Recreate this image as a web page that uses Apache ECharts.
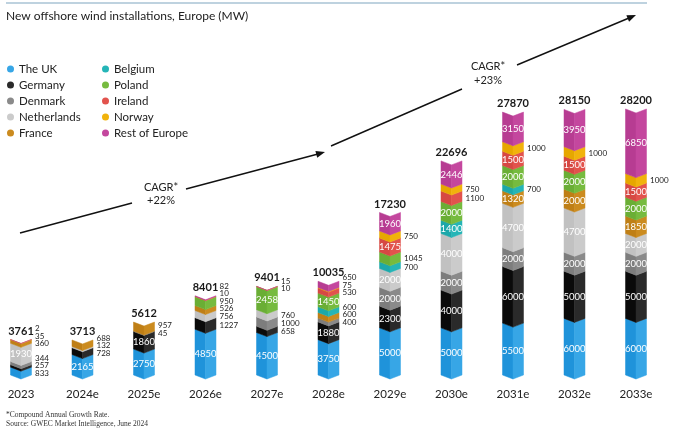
<!DOCTYPE html>
<html>
<head>
<meta charset="utf-8">
<script src="https://cdn.jsdelivr.net/npm/echarts@6.0.0/dist/echarts.min.js"></script>
<style>
  html, body { margin: 0; padding: 0; background: #fff; }
  #chart { width: 680px; height: 435px; }
</style>
</head>
<body>
<div id="chart"></div>
<script>
// values in MW
const years = ['2023', '2024e', '2025e', '2026e', '2027e', '2028e', '2029e', '2030e', '2031e', '2032e', '2033e']
const totals = [3761, 3713, 5612, 8401, 9401, 10035, 17230, 22696, 27870, 28150, 28200]

const uk = [833, 2165, 2750, 4850, 4500, 3750, 5000, 5000, 5500, 6000, 6000]
const germany = [257, 728, 1860, 1227, 658, 1880, 2300, 4000, 6000, 5000, 5000]
const denmark = [344, 0, 45, 0, 1000, 400, 2000, 2000, 2000, 2000, 2000]
const netherlands = [1930, 132, 0, 756, 760, 0, 2000, 4000, 4700, 4700, 2000]
const france = [360, 688, 957, 526, 0, 600, 0, 0, 1320, 2000, 1850]
const belgium = [0, 0, 0, 0, 0, 600, 700, 1400, 700, 0, 0]
const poland = [0, 0, 0, 950, 2458, 1450, 1045, 2000, 2000, 2000, 2000]
const ireland = [0, 0, 0, 0, 0, 530, 1475, 1100, 1500, 1500, 1500]
const norway = [35, 0, 0, 10, 10, 75, 750, 750, 1000, 1000, 1000]
const restOfEurope = [2, 0, 0, 82, 15, 650, 1960, 2446, 3150, 3950, 6850]

const countries = ['The UK', 'Germany', 'Denmark', 'Netherlands', 'France',
                   'Belgium', 'Poland', 'Ireland', 'Norway', 'Rest of Europe']
const stacks = [uk, germany, denmark, netherlands, france, belgium, poland, ireland, norway, restOfEurope]

const colors = ['#37a6e6', '#2a2a2a', '#8a8a8a', '#cbcbcb', '#cb8b1f', '#25b5b7', '#76bb3f', '#e2534d', '#f1b30c', '#c4479e']
const shades = ['#1f93da', '#0a0a0a', '#7d7d7d', '#c1c1c1', '#bf7f16', '#1ca8aa', '#6aae35', '#d64843', '#e6a700', '#b73c92']

const FONT = 'Lato, "DejaVu Sans", sans-serif'
const BAR_W = 21
const CHEV = 4
const INSIDE_MIN = 1300

// running bases of the stack
const bases = []
stacks.forEach((s, k) => {
    bases.push(years.map((y, i) => k === 0 ? 0 : bases[k - 1][i] + stacks[k - 1][i]))
})

function renderSegment(k) {
    return function (params, api) {
        const v = api.value(3)
        if (!v) return null
        const pb = api.coord([api.value(0), api.value(1)])
        const pt = api.coord([api.value(0), api.value(2)])
        const cx = pb[0], h = BAR_W / 2, yb = pb[1], yt = pt[1]
        const children = [
            {
                type: 'polygon',
                shape: { points: [[cx - h, yt], [cx, yt + CHEV], [cx, yb + CHEV], [cx - h, yb]] },
                style: { fill: shades[k], stroke: shades[k], lineWidth: 0.5 }
            },
            {
                type: 'polygon',
                shape: { points: [[cx, yt + CHEV], [cx + h, yt], [cx + h, yb], [cx, yb + CHEV]] },
                style: { fill: colors[k], stroke: colors[k], lineWidth: 0.5 }
            }
        ]
        if (v >= INSIDE_MIN) {
            children.push({
                type: 'text',
                z2: 10,
                style: {
                    text: String(v), x: cx, y: (yt + yb) / 2 + CHEV / 2,
                    align: 'center', verticalAlign: 'middle',
                    fill: '#fff', fontSize: 9.5, fontFamily: FONT
                }
            })
        }
        return { type: 'group', children }
    }
}

function renderLabels(params, api) {
    const i = api.value(0)
    const children = []
    let prev = Infinity
    let base = 0
    stacks.forEach(s => {
        const v = s[i]
        if (v <= 0) return
        if (v < INSIDE_MIN) {
            const pb = api.coord([i, base])
            const pt = api.coord([i, base + v])
            const y = Math.min((pb[1] + pt[1]) / 2 + CHEV / 2, prev - 7.5)
            prev = y
            children.push({
                type: 'text',
                style: {
                    text: String(v), x: pb[0] + 14, y,
                    align: 'left', verticalAlign: 'middle',
                    fill: '#222', fontSize: 8, fontFamily: FONT
                }
            })
        }
        base += v
    })
    const top = api.coord([i, base])
    children.push({
        type: 'text',
        style: {
            text: String(api.value(1)), x: top[0], y: top[1] - 3,
            align: 'center', verticalAlign: 'bottom',
            fill: '#1a1a1a', fontSize: 11, fontWeight: 'bold', fontFamily: FONT
        }
    })
    return { type: 'group', children }
}

function arrowHead(x1, y1, x2, y2) {
    const len = Math.hypot(x2 - x1, y2 - y1)
    const ux = (x2 - x1) / len, uy = (y2 - y1) / len
    const bx = x2 - ux * 9, by = y2 - uy * 9
    return {
        type: 'polygon',
        shape: { points: [[x2, y2], [bx - uy * 3.5, by + ux * 3.5], [bx + uy * 3.5, by - ux * 3.5]] },
        style: { fill: '#111' }
    }
}

function seg(x1, y1, x2, y2) {
    return { type: 'line', shape: { x1, y1, x2, y2 }, style: { stroke: '#111', lineWidth: 1.4 } }
}

function note(text, x, y, size, family) {
    return {
        type: 'text', x, y,
        style: { text, fill: '#222', fontSize: size, fontFamily: family || FONT, align: 'center', verticalAlign: 'middle' }
    }
}

const series = countries.map((name, k) => ({
    type: 'custom',
    name,
    itemStyle: { color: colors[k] },
    renderItem: renderSegment(k),
    encode: { x: 0, y: [1, 2] },
    data: years.map((y, i) => [i, bases[k][i], bases[k][i] + stacks[k][i], stacks[k][i]]),
    z: 2
}))

series.push({
    type: 'custom',
    name: 'labels',
    silent: true,
    renderItem: renderLabels,
    encode: { x: 0, y: 1 },
    data: years.map((y, i) => [i, totals[i]]),
    z: 5
})

const legendBase = {
    orient: 'vertical', top: 61, padding: 0, icon: 'circle',
    itemWidth: 7, itemHeight: 7, itemGap: 0, selectedMode: false,
    textStyle: { fontSize: 11.5, lineHeight: 16, color: '#222', fontFamily: FONT }
}

const myChart = echarts.init(document.getElementById('chart'))
myChart.setOption({
    animation: false,
    title: {
        text: 'New offshore wind installations, Europe (MW)',
        left: 6, top: 10, padding: 0,
        textStyle: { fontSize: 12, fontWeight: 'normal', color: '#222', fontFamily: FONT }
    },
    legend: [
        Object.assign({}, legendBase, { left: 7, data: countries.slice(0, 5) }),
        Object.assign({}, legendBase, { left: 102, data: countries.slice(5) })
    ],
    grid: { left: 21, right: 44, top: 92, bottom: 60 },
    xAxis: {
        type: 'category',
        data: years,
        boundaryGap: false,
        axisLine: { show: false },
        axisTick: { show: false },
        axisLabel: { color: '#222', fontSize: 11.5, fontFamily: FONT, margin: 13 }
    },
    yAxis: { type: 'value', min: 0, max: 30000, show: false },
    graphic: [
        { type: 'line', shape: { x1: 6, y1: 3, x2: 647, y2: 3 }, style: { stroke: '#a9c3d5', lineWidth: 1.5 } },
        seg(20, 233, 132, 203),
        seg(186, 189, 318, 154),
        arrowHead(186, 189, 325, 152),
        note('CAGR*', 161, 187, 11),
        note('+22%', 161, 200, 11),
        seg(331, 146, 462, 89),
        seg(517, 65, 629, 18),
        arrowHead(517, 65, 636, 15),
        note('CAGR*', 488, 66, 11),
        note('+23%', 488, 80, 11),
        {
            type: 'text', left: 6, top: 411,
            style: { text: '*Compound Annual Growth Rate.', fill: '#333', fontSize: 7.5, fontFamily: '"Liberation Serif", serif' }
        },
        {
            type: 'text', left: 6, top: 420,
            style: { text: 'Source: GWEC Market Intelligence, June 2024', fill: '#333', fontSize: 7.5, fontFamily: '"Liberation Serif", serif' }
        }
    ],
    series
})
</script>
</body>
</html>
